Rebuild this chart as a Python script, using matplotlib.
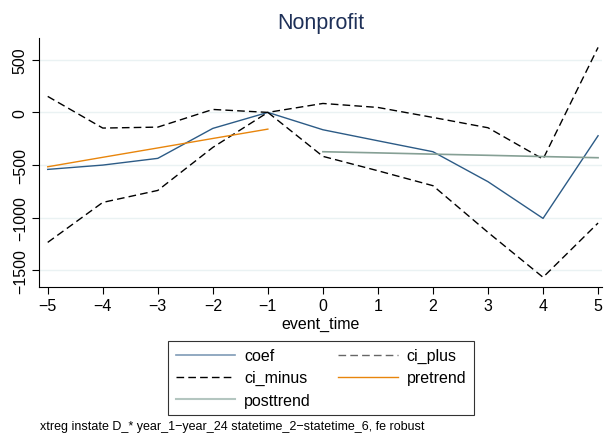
#!/usr/bin/env python3
"""
Event-study plot: Nonprofit coefficients with confidence bands and trends.
"""

import matplotlib.pyplot as plt
from matplotlib.lines import Line2D

plt.rcParams['font.family'] = ['Liberation Sans', 'DejaVu Sans']

event_time = [-5, -4, -3, -2, -1, 0, 1, 2, 3, 4, 5]
coef = [-542, -501, -437, -152, 0, -165, -270, -374, -659, -1008, -222]
ci_plus = [152, -149, -140, 28, 0, 85, 47, -48, -146, -444, 618]
ci_minus = [-1236, -856, -742, -333, 0, -418, -555, -697, -1141, -1568, -1052]

pre_time = [-5, -4, -3, -2, -1]
pretrend = [-517, -427, -338, -248, -159]
post_time = [0, 1, 2, 3, 4, 5]
posttrend = [-374, -385, -397, -408, -420, -431]

y_ticks = [500, 0, -500, -1000, -1500]
note = "xtreg instate D_* year_1\u2212year_24 statetime_2\u2212statetime_6, fe robust"

c_coef = '#2c5b86'
c_pre = '#e8850c'
c_post = '#86a095'
dash = (0, (5.5, 3))

fig = plt.figure(figsize=(6.08, 4.35), dpi=100)
ax = fig.add_axes([0.064, 0.338, 0.926, 0.572])

for y in y_ticks:
    ax.axhline(y, color='#eaf2f3', lw=1.0, zorder=0)

ax.plot(event_time, coef, color=c_coef, lw=1.0)
ax.plot(event_time, ci_plus, color='black', lw=1.0, linestyle=dash)
ax.plot(event_time, ci_minus, color='black', lw=1.0, linestyle=dash)
ax.plot(pre_time, pretrend, color=c_pre, lw=1.0)
ax.plot(post_time, posttrend, color=c_post, lw=1.2)

ax.set_xlim(-5.16, 5.07)
ax.set_ylim(-1660, 706)
ax.set_xticks(event_time)
ax.set_yticks(y_ticks)
ax.set_yticklabels([str(v).replace('-', '\u2212') for v in y_ticks],
                   rotation=90, va='center')
ax.tick_params(labelsize=11.5, length=5, width=0.8, color='black', pad=3)
ax.spines['top'].set_visible(False)
ax.spines['right'].set_visible(False)
ax.spines['left'].set_linewidth(0.8)
ax.spines['bottom'].set_linewidth(0.8)

ax.set_xlabel("event_time", fontsize=11.5, labelpad=2)
ax.set_title("Nonprofit", fontsize=15.5, color='#1e3058', pad=7)

handles = [
    Line2D([], [], color='#7f9bb6', lw=1.2),
    Line2D([], [], color='black', lw=1.0, linestyle=dash),
    Line2D([], [], color='#b4c6c0', lw=1.5),
    Line2D([], [], color='#666666', lw=1.0, linestyle=dash),
    Line2D([], [], color=c_pre, lw=1.0),
]
labels = ['coef', 'ci_minus', 'posttrend', 'ci_plus', 'pretrend']
leg = fig.legend(handles, labels, ncol=2, loc='upper center',
                 bbox_to_anchor=(0.528, 0.214), fontsize=11.5,
                 frameon=True, fancybox=False, edgecolor='black',
                 handlelength=3.75, columnspacing=1.7, handletextpad=0.55,
                 borderpad=0.45, labelspacing=0.45, borderaxespad=0)
leg.get_frame().set_linewidth(0.8)

fig.text(0.066, 0.004, note, fontsize=9, ha='left', va='bottom')

fig.savefig("out.png", dpi=100)
plt.close(fig)
